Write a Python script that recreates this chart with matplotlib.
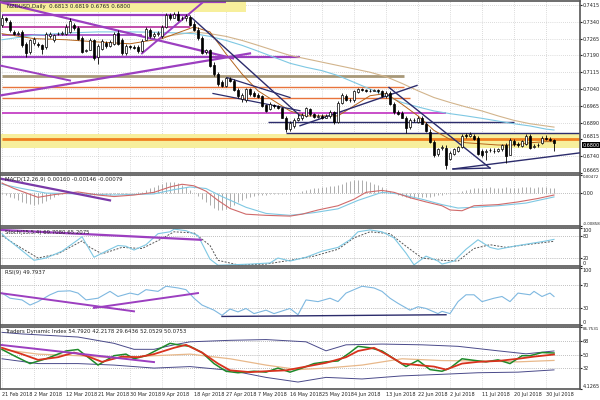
import numpy as np
import matplotlib
matplotlib.use('Agg')
import matplotlib.pyplot as plt
import matplotlib.transforms as mtransforms

# ---- price data (NZDUSD daily, bar index 0 = 21 Feb 2018) ----
opens = [.7325, .7355, .7340, .7295, .7287, .7295, .7242, .7205, .7245, .7242,
         .7235, .7227, .7275, .7257, .7284, .7287, .7287, .7295, .7325, .7314,
         .7269, .7209, .7215, .7257, .7182, .7220, .7245, .7230, .7242, .7290,
         .7260, .7200, .7230, .7227, .7227, .7209, .7260, .7305, .7275, .7284,
         .7275, .7317, .7370, .7359, .7377, .7355, .7359, .7362, .7329, .7305,
         .7269, .7205, .7212, .7149, .7107, .7070, .7055, .7085, .7077, .7035,
         .6995, .6990, .7038, .7020, .7013, .7008, .6969, .6950, .6969, .6963,
         .6954, .6912, .6860, .6873, .6903, .6909, .6921, .6950, .6927, .6915,
         .6921, .6912, .6918, .6936, .6894, .6978, .7011, .6993, .6990, .7026,
         .7038, .7035, .7032, .7032, .7035, .7029, .7008, .7023, .6975, .6936,
         .6933, .6912, .6870, .6903, .6894, .6909, .6885, .6849, .6804, .6750,
         .6777, .6777, .6729, .6750, .6765, .6783, .6834, .6831, .6828, .6822,
         .6765, .6759, .6768, .6765, .6762, .6770, .6789, .6747, .6807, .6795,
         .6786, .6795, .6831, .6783, .6789, .6801, .6822, .6819, .6813]
highs = [.7370, .7362, .7347, .7302, .7299, .7302, .7250, .7265, .7272, .7250,
         .7242, .7295, .7295, .7287, .7295, .7299, .7329, .7355, .7335, .7320,
         .7275, .7220, .7269, .7265, .7242, .7265, .7254, .7260, .7295, .7302,
         .7269, .7242, .7236, .7235, .7235, .7265, .7317, .7314, .7293, .7299,
         .7325, .7380, .7380, .7385, .7389, .7368, .7374, .7370, .7344, .7317,
         .7275, .7220, .7220, .7160, .7115, .7080, .7095, .7092, .7083, .7044,
         .7023, .7044, .7044, .7029, .7020, .7014, .6975, .6984, .6975, .6969,
         .6960, .6920, .6897, .6912, .6927, .6933, .6960, .6957, .6935, .6927,
         .6930, .6927, .6945, .6942, .6987, .7023, .7017, .7002, .7035, .7044,
         .7044, .7041, .7040, .7041, .7041, .7035, .7032, .7029, .6981, .6945,
         .6942, .6920, .6909, .6912, .6918, .6918, .6894, .6860, .6813, .6777,
         .6789, .6789, .6762, .6777, .6786, .6837, .6845, .6849, .6837, .6831,
         .6771, .6771, .6777, .6777, .6777, .6795, .6798, .6822, .6816, .6804,
         .6813, .6837, .6840, .6795, .6801, .6831, .6834, .6825, .6819]
lows = [.7317, .7340, .7295, .7280, .7280, .7227, .7185, .7197, .7238, .7227,
        .7197, .7220, .7269, .7250, .7280, .7281, .7280, .7290, .7305, .7260,
        .7200, .7205, .7212, .7170, .7152, .7212, .7224, .7227, .7238, .7238,
        .7194, .7194, .7220, .7218, .7200, .7205, .7257, .7269, .7269, .7275,
        .7269, .7314, .7350, .7355, .7344, .7350, .7344, .7320, .7299, .7260,
        .7197, .7197, .7140, .7100, .7055, .7050, .7050, .7070, .7029, .7002,
        .6984, .6984, .7011, .7005, .6999, .6960, .6936, .6945, .6957, .6951,
        .6909, .6849, .6852, .6867, .6897, .6900, .6915, .6921, .6909, .6912,
        .6906, .6909, .6912, .6882, .6888, .6972, .6987, .6981, .6984, .7020,
        .7029, .7026, .7026, .7029, .7023, .7005, .6999, .6969, .6930, .6924,
        .6909, .6845, .6861, .6894, .6888, .6882, .6849, .6800, .6738, .6741,
        .6768, .6684, .6723, .6744, .6759, .6777, .6822, .6825, .6813, .6744,
        .6738, .6723, .6759, .6753, .6759, .6765, .6711, .6744, .6786, .6783,
        .6780, .6789, .6771, .6777, .6783, .6795, .6813, .6810, .6765]
closes = [.7355, .7347, .7302, .7287, .7290, .7235, .7200, .7257, .7265, .7235,
          .7220, .7287, .7284, .7280, .7287, .7290, .7317, .7344, .7314, .7265,
          .7205, .7212, .7260, .7179, .7230, .7254, .7230, .7250, .7287, .7242,
          .7200, .7232, .7227, .7224, .7209, .7254, .7310, .7275, .7284, .7290,
          .7317, .7370, .7359, .7377, .7350, .7359, .7365, .7325, .7302, .7269,
          .7200, .7212, .7145, .7107, .7062, .7055, .7089, .7077, .7035, .7010,
          .7014, .7038, .7017, .7011, .7005, .6965, .6942, .6975, .6963, .6957,
          .6912, .6860, .6888, .6903, .6912, .6924, .6954, .6927, .6915, .6921,
          .6912, .6920, .6939, .6891, .6978, .7014, .6993, .6990, .7029, .7038,
          .7035, .7032, .7030, .7035, .7029, .7011, .7023, .6975, .6936, .6930,
          .6912, .6864, .6900, .6901, .6912, .6885, .6852, .6804, .6744, .6770,
          .6780, .6702, .6753, .6771, .6780, .6831, .6831, .6837, .6816, .6750,
          .6744, .6762, .6768, .6762, .6771, .6789, .6741, .6813, .6795, .6792,
          .6807, .6831, .6777, .6786, .6792, .6822, .6819, .6813, .6800]

date_labels = ['21 Feb 2018', '2 Mar 2018', '12 Mar 2018', '21 Mar 2018', '30 Mar 2018',
               '9 Apr 2018', '18 Apr 2018', '27 Apr 2018', '7 May 2018', '16 May 2018',
               '25 May 2018', '4 Jun 2018', '13 Jun 2018', '22 Jun 2018', '2 Jul 2018',
               '11 Jul 2018', '20 Jul 2018', '30 Jul 2018']
date_bars = [0, 8, 16, 24, 32, 40, 48, 56, 64, 72, 80, 88, 96, 104, 112, 120, 128, 136]

# moving averages on the price panel (sampled)
ma_fast_x = [0, 8, 16, 24, 32, 40, 48, 52, 56, 60, 64, 68, 72, 76, 80, 84, 88, 92, 96, 100,
             104, 108, 112, 116, 120, 124, 128, 132, 136, 138]
ma_fast_y = [.7287, .7265, .7260, .7250, .7242, .7265, .7317, .7295, .7197, .7107, .7032, .6987,
             .6942, .6920, .6920, .6920, .6965, .7010, .7020, .6972, .6920, .6855, .6815, .6800,
             .6795, .6790, .6790, .6800, .6805, .6805]
ma_mid_x = [0, 8, 16, 24, 32, 40, 48, 52, 56, 60, 64, 68, 72, 76, 80, 84, 88, 92, 96, 100,
            104, 108, 112, 116, 120, 124, 128, 132, 136, 138]
ma_mid_y = [.7260, .7280, .7290, .7295, .7295, .7293, .7287, .7275, .7257, .7235, .7209, .7182,
            .7155, .7137, .7122, .7100, .7070, .7040, .7010, .6980, .6960, .6942, .6930, .6920,
            .6909, .6897, .6885, .6875, .6861, .6857]
ma_slow_x = [40, 48, 52, 56, 60, 64, 68, 72, 76, 80, 84, 88, 92, 96, 100, 104, 108, 112, 116,
             120, 124, 128, 132, 136, 138]
ma_slow_y = [.7272, .7295, .7287, .7275, .7257, .7235, .7212, .7190, .7175, .7160, .7145, .7130,
             .7115, .7095, .7065, .7032, .7002, .6980, .6960, .6942, .6920, .6900, .6885, .6875,
             .6870]

# drawn objects: horizontal levels and trend lines (bar, price)
hl_price = [0.7428, 0.7370, 0.7316, 0.7280, 0.7181, 0.7100, 0.7051, 0.7002, 0.6934, 0.6894,
            0.6844, 0.6817]
hl_from = [0, 0, 0, 0, 0, 0, 0, 0, 0, 66.5, 71, 0]
hl_to = [56, 47, 47, 35, 74.5, 100.5, 100.5, 102, 111, 128, 144.5, 144.5]
band_lo = [0.7384, 0.6775]
band_hi = [0.7437, 0.6840]
band_from = [-0.5, -0.5]
band_to = [61, 144.5]
tl_x0 = [-0.5, -0.5, -0.5, 35, 47.5, 96.75, 74.5, 112.75, 112.75, 52.75, 56.25]
tl_y0 = [0.7428, 0.7011, 0.7145, 0.7199, 0.7357, 0.7047, 0.6876, 0.6683, 0.6683, 0.7020, 0.7091]
tl_x1 = [57.75, 62, 17, 50, 74.5, 122, 103.75, 144.5, 122, 74.5, 72]
tl_y1 = [0.7177, 0.7199, 0.7078, 0.7424, 0.6921, 0.6687, 0.7056, 0.6755, 0.6687, 0.6943, 0.7002]

# MACD
macd_hist = [-0.0003, -0.0006, -0.0010,
             -0.0014, -0.0018, -0.0022, -0.0026, -0.0028, -0.0030, -0.0028, -0.0025, -0.0020,
             -0.0015, -0.0010, -0.0006,
             -0.0003, 0.0000, 0.0002, 0.0003, 0.0002, -0.0002, -0.0004, -0.0005, -0.0004,
             -0.0003, -0.0004, -0.0005, -0.0004, -0.0003, -0.0002, -0.0003, -0.0002, -0.0001,
             0.0000, 0.0002, 0.0004,
             0.0008, 0.0012, 0.0016, 0.0020, 0.0024, 0.0028, 0.0030, 0.0029, 0.0026, 0.0022, 0.0016,
             0.0008, 0.0000, -0.0008,
             -0.0016, -0.0024, -0.0032, -0.0040, -0.0044, -0.0045, -0.0042, -0.0036, -0.0030,
             -0.0024, -0.0018,
             -0.0014, -0.0010, -0.0008, -0.0006, -0.0005, -0.0004, -0.0003, -0.0002, -0.0002,
             -0.0003, -0.0003, -0.0002, 0.0000, 0.0003, 0.0006, 0.0008, 0.0010, 0.0012, 0.0014,
             0.0015, 0.0016, 0.0018, 0.0018,
             0.0020, 0.0024, 0.0028, 0.0031, 0.0034, 0.0035, 0.0034, 0.0032, 0.0029, 0.0025,
             0.0020, 0.0015, 0.0010, 0.0005,
             0.0000, -0.0005, -0.0008, -0.0010, -0.0012, -0.0012, -0.0011, -0.0010, -0.0010,
             -0.0009, -0.0008, -0.0006, -0.0004,
             -0.0003, -0.0002, 0.0000, 0.0003, 0.0006, 0.0008, 0.0010, 0.0012, 0.0013, 0.0014,
             0.0014, 0.0015, 0.0014, 0.0013, 0.0014, 0.0015, 0.0014, 0.0013, 0.0014, 0.0015,
             0.0016, 0.0015, 0.0014, 0.0015, 0.0016, 0.0015, 0.0014, 0.0013]
macd_x = [0, 3, 9, 13, 19, 24, 28, 33, 38, 42, 45, 48, 51, 54, 57, 61, 66, 72, 75, 79, 84, 88,
          91, 95, 98, 102, 106, 110, 112, 115, 118, 124, 129, 134, 138]
macd_y = [0.0026, 0.0012, -0.0011, -0.0004, 0.0003, -0.0005, -0.0009, -0.0005, 0.0002, 0.0016,
          0.0023, 0.0019, 0.0005, -0.0019, -0.0040, -0.0055, -0.0058, -0.0060, -0.0055, -0.0044,
          -0.0033, -0.0016, 0.0002, 0.0007, 0.0002, -0.0012, -0.0023, -0.0033, -0.0044, -0.0046,
          -0.0033, -0.0030, -0.0023, -0.0014, -0.0005]
sig_x = [0, 5, 11, 19, 28, 38, 43, 47, 51, 55, 61, 66, 72, 78, 84, 89, 95, 99, 105, 110, 114,
         118, 124, 131, 138]
sig_y = [0.0023, 0.0012, 0.0000, -0.0002, -0.0005, -0.0002, 0.0009, 0.0016, 0.0012, -0.0009,
         -0.0037, -0.0053, -0.0058, -0.0051, -0.0041, -0.0019, 0.0002, -0.0002, -0.0016, -0.0030,
         -0.0039, -0.0037, -0.0033, -0.0026, -0.0010]

# Stochastic
stk_x = [0, 1, 4, 8, 11, 15, 19, 20, 23, 26, 29, 31, 33, 36, 39, 42, 43, 46, 49, 52, 54, 57,
         62, 67, 69, 72, 76, 80, 84, 87, 89, 92, 95, 98, 101, 103, 106, 109, 110, 113, 116, 119,
         122, 124, 128, 132, 135, 138]
stk_y = [85, 74, 49, 15, 21, 39, 69, 77, 23, 39, 54, 52, 42, 56, 85, 90, 97, 93, 80, 18, 2, 3,
         5, 8, 21, 13, 23, 39, 49, 69, 90, 95, 90, 74, 34, 3, 26, 13, 5, 13, 44, 69, 49, 44, 52,
         59, 64, 70]
std_x = [0, 3, 9, 14, 20, 22, 25, 30, 35, 40, 43, 48, 52, 54, 59, 66, 72, 78, 84, 88, 92, 97,
         101, 105, 110, 114, 118, 122, 126, 131, 138]
std_y = [80, 59, 21, 32, 66, 49, 32, 49, 46, 72, 90, 87, 54, 15, 3, 5, 15, 26, 44, 74, 90, 85,
         52, 21, 15, 13, 46, 56, 49, 56, 65]

# RSI
rsi_x = [0, 2, 5, 7, 9, 12, 14, 17, 19, 21, 24, 27, 29, 32, 34, 36, 39, 41, 44, 46, 48, 50, 53,
         55, 57, 59, 61, 63, 66, 68, 72, 74, 76, 79, 82, 84, 86, 88, 90, 93, 95, 97, 99, 102,
         104, 106, 109, 110, 112, 114, 116, 118, 120, 123, 125, 127, 129, 132, 133, 135, 137, 138]
rsi_y = [56, 47, 44, 35, 41, 53, 59, 60, 56, 44, 47, 59, 50, 56, 53, 62, 59, 68, 65, 62, 47, 35,
         26, 17, 28, 23, 29, 20, 26, 20, 29, 18, 44, 41, 47, 41, 56, 62, 68, 65, 59, 47, 38, 26,
         32, 29, 20, 24, 20, 41, 53, 53, 41, 47, 50, 41, 56, 53, 59, 50, 56, 50]

# Traders Dynamic Index
tdi_up_x = [0, 5, 19, 28, 33, 38, 43, 47, 57, 66, 76, 81, 86, 95, 105, 114, 124, 131, 138]
tdi_up_y = [79.6, 77.5, 73.4, 65, 57, 57, 63, 67, 69, 70, 67, 55, 63, 64, 63, 61, 55, 51, 54.8]
tdi_mid_x = [0, 9, 19, 28, 38, 47, 57, 66, 74, 81, 90, 100, 110, 119, 129, 138]
tdi_mid_y = [56.8, 50.6, 48.5, 45.6, 48.5, 50.6, 44.4, 36, 30, 32, 36, 44.4, 42, 41.5, 40.3, 42.2]
tdi_lo_x = [0, 9, 19, 28, 38, 47, 57, 66, 74, 81, 90, 100, 110, 119, 129, 138]
tdi_lo_y = [44.4, 38, 38, 36, 32, 34, 29, 19.6, 13.4, 19.6, 17.5, 21.6, 23.7, 25.8, 26.6, 29.6]
tdi_g_x = [0, 3, 7, 11, 16, 19, 22, 24, 28, 31, 33, 36, 39, 42, 44, 47, 50, 53, 56, 59, 63, 66,
           69, 72, 75, 78, 81, 84, 87, 89, 92, 95, 98, 101, 104, 107, 110, 112, 115, 118, 121,
           124, 127, 130, 132, 135, 138]
tdi_g_y = [56.8, 48.5, 38, 44.4, 54.8, 56.8, 44.4, 36, 48.5, 50.6, 44.4, 48.5, 56.8, 65, 63, 61,
           52.7, 38, 27.8, 25.8, 27.8, 26.6, 32, 26.6, 32, 38, 40.3, 41.5, 52.7, 61, 59, 54.8,
           44.4, 34, 42.3, 30, 27.8, 32, 44.4, 42.3, 40.3, 43, 38, 48.5, 48.5, 52.7, 52.1]
tdi_r_x = [0, 5, 9, 14, 18, 21, 25, 30, 34, 38, 43, 46, 50, 54, 57, 62, 66, 71, 76, 81, 86, 89,
           93, 96, 100, 104, 108, 111, 115, 119, 124, 129, 133, 138]
tdi_r_y = [59, 50.6, 43, 46.5, 52.7, 48.5, 40.3, 47.3, 46.5, 50.6, 59, 63, 52.7, 38, 29, 26.6,
           27.8, 29, 34, 39, 46.5, 54.8, 59, 50.6, 38, 36, 34, 30, 38, 40.3, 41.5, 44.4, 47.3, 50.1]

# ---- figure ----
fig = plt.figure(figsize=(6, 4), dpi=100)
fig.patch.set_facecolor('white')
W = 580 / 600
FS = 3.5   # axis labels
HFS = 3.9  # panel headers


def make_panel(top, bottom):
    ax = fig.add_axes([0, 1 - bottom / 400, W, (bottom - top) / 400])
    ax.set_xlim(-0.5, 144.5)
    ax.yaxis.tick_right()
    ax.tick_params(axis='y', labelsize=FS, length=1.2, pad=0.6, colors='#222222')
    ax.tick_params(axis='x', length=0, labelsize=FS, pad=2, colors='#222222')
    ax.set_xticks(date_bars)
    ax.set_xticklabels([])
    for s in ax.spines.values():
        s.set_color('#555555')
        s.set_linewidth(1.2)
    ax.grid(True, color='#bbbbbb', linestyle=(0, (1, 2)), linewidth=0.5)
    ax.set_axisbelow(True)
    return ax


def edge_labels(ax, top_first=True):
    labs = ax.get_yticklabels()
    if top_first:
        labs[0].set_va('top')
    labs[-1].set_va('bottom')
    for t in labs:
        if len(t.get_text()) > 6:
            t.set_fontsize(2.9)


ax = make_panel(1, 173)
ax.set_ylim(0.6665, 0.7433)
ax.set_yticks([0.7415, 0.7340, 0.7265, 0.7190, 0.7115, 0.7040, 0.6965, 0.6890, 0.6815,
               0.6740, 0.6665])
ax.set_yticklabels(['%.4f' % v for v in ax.get_yticks()])
edge_labels(ax, top_first=False)
# keep the 0.6815 label clear of the current-price box
ax.get_yticklabels()[8].set_va('bottom')

for lo, hi, x0, x1 in zip(band_lo, band_hi, band_from, band_to):
    ax.fill_between([x0, x1], lo, hi, color='#f7ef9c', lw=0, zorder=1)

hl_color = ['#9c3fc0', '#9c3fc0', '#b8309c', '#9c3fc0', '#9c3fc0', '#a89878', '#e8743c',
            '#e8743c', '#c030c0', '#2c2c6c', '#2c2c6c', '#f08020']
hl_lw = [1.6, 1.6, 1.2, 1.2, 1.6, 2.0, 1.0, 1.0, 1.2, 1.0, 1.0, 2.0]
for p, x0, x1, c, lw in zip(hl_price, hl_from, hl_to, hl_color, hl_lw):
    ax.plot([x0, x1], [p, p], color=c, lw=lw, zorder=2, solid_capstyle='butt')

ax.plot(ma_slow_x, ma_slow_y, color='#d2b48c', lw=0.8, zorder=3)
ax.plot(ma_mid_x, ma_mid_y, color='#7ec8e3', lw=0.8, zorder=3)
ax.plot(ma_fast_x, ma_fast_y, color='#b5651d', lw=0.7, zorder=3)

tl_color = ['#9c3fc0'] * 4 + ['#2c2c6c'] * 7
tl_lw = [1.6, 1.6, 1.4, 1.4, 1.0, 1.0, 1.0, 1.0, 1.0, 0.9, 0.9]
for x0, y0, x1, y1, c, lw in zip(tl_x0, tl_y0, tl_x1, tl_y1, tl_color, tl_lw):
    ax.plot([x0, x1], [y0, y1], color=c, lw=lw, zorder=4)

o = np.array(opens)
h = np.array(highs)
l = np.array(lows)
c = np.array(closes)
idx = np.arange(len(c))
ax.vlines(idx, l, h, color='black', lw=0.6, zorder=5)
body = np.maximum(np.abs(c - o), 0.00008)
ax.bar(idx, body, bottom=np.minimum(o, c), width=0.7,
       color=np.where(c >= o, 'white', 'black'), edgecolor='black', lw=0.5, zorder=6)

tr = mtransforms.blended_transform_factory(ax.transAxes, ax.transData)
ax.text(1.004, closes[-1], '%.4f' % closes[-1], transform=tr, fontsize=FS, color='white',
        va='top', ha='left', bbox=dict(facecolor='black', edgecolor='none', pad=0.4),
        zorder=10)
ax.text(0.012, 0.985, 'NZDUSD,Daily  0.6813 0.6819 0.6765 0.6800', transform=ax.transAxes,
        fontsize=HFS, va='top', ha='left', color='#222222', zorder=10)

# MACD panel
ax2 = make_panel(175, 226)
ax2.set_ylim(-0.00858, 0.00472)
ax2.set_yticks([0.00472, 0.0, -0.00858])
ax2.set_yticklabels(['0.00472', '0.00', '-0.00858'])
edge_labels(ax2)
ax2.axhline(0, color='#aaaaaa', lw=0.5, ls=(0, (1, 2)))
ax2.vlines(idx, 0, macd_hist, color='#a0a0a0', lw=0.6)
ax2.plot(sig_x, sig_y, color='#7ec8e3', lw=0.8)
ax2.plot(macd_x, macd_y, color='#d06a6a', lw=0.8)
ax2.plot([-0.5, 27], [0.0038, -0.0019], color='#7a3aa8', lw=1.6)
ax2.text(0.008, 0.97, 'MACD(12,26,9) 0.00160 -0.00146 -0.00079', transform=ax2.transAxes,
         fontsize=HFS, va='top', ha='left', color='#222222')

# Stochastic panel
ax3 = make_panel(228, 266)
ax3.set_ylim(0, 100)
ax3.set_yticks([100, 80, 20, 0])
edge_labels(ax3)
ax3.axhline(80, color='#aaaaaa', lw=0.5, ls=(0, (1, 2)))
ax3.axhline(20, color='#aaaaaa', lw=0.5, ls=(0, (1, 2)))
ax3.plot(std_x, std_y, color='#555555', lw=0.7, ls=(0, (2, 1.5)))
ax3.plot(stk_x, stk_y, color='#7ec8e3', lw=0.8)
ax3.plot([-0.5, 49.7], [95, 69], color='#9c3fc0', lw=1.6)
ax3.text(0.008, 0.96, 'Stoch(15,5,4) 69.7080 65.2075', transform=ax3.transAxes,
         fontsize=HFS, va='top', ha='left', color='#222222')

# RSI panel
ax4 = make_panel(268, 325)
ax4.set_ylim(0, 100)
ax4.set_yticks([100, 70, 30, 0])
edge_labels(ax4)
ax4.axhline(70, color='#aaaaaa', lw=0.5, ls=(0, (1, 2)))
ax4.axhline(30, color='#aaaaaa', lw=0.5, ls=(0, (1, 2)))
ax4.plot(rsi_x, rsi_y, color='#7eb8e0', lw=0.8)
ax4.plot([-0.5, 33], [56, 24], color='#9c3fc0', lw=1.4)
ax4.plot([23, 49], [30, 56], color='#9c3fc0', lw=1.4)
ax4.plot([55, 111], [15, 18], color='#2c2c6c', lw=1.0)
ax4.text(0.008, 0.97, 'RSI(9) 49.7937', transform=ax4.transAxes,
         fontsize=HFS, va='top', ha='left', color='#222222')

# TDI panel
ax5 = make_panel(327, 389)
ax5.set_ylim(4.1265, 86.7531)
ax5.set_yticks([86.7531, 68, 50, 32, 4.1265])
ax5.set_yticklabels(['86.7531', '68', '50', '32', '4.1265'])
edge_labels(ax5)
for lev in [68, 50, 32]:
    ax5.axhline(lev, color='#aaaaaa', lw=0.5, ls=(0, (1, 2)))
ax5.plot(tdi_up_x, tdi_up_y, color='#4a4a8a', lw=0.7)
ax5.plot(tdi_lo_x, tdi_lo_y, color='#4a4a8a', lw=0.7)
ax5.plot(tdi_mid_x, tdi_mid_y, color='#e8b88a', lw=0.9)
ax5.plot(tdi_g_x, tdi_g_y, color='#1e8a2a', lw=1.1)
ax5.plot(tdi_r_x, tdi_r_y, color='#d8321e', lw=1.3)
ax5.plot([-0.5, 38], [63, 40], color='#9c3fc0', lw=1.4)
ax5.text(0.008, 0.97, 'Traders Dynamic Index 54.7920 42.2178 29.6436 52.0529 50.0753',
         transform=ax5.transAxes, fontsize=HFS, va='top', ha='left', color='#222222')
ax5.set_xticklabels(date_labels, ha='left')

fig.savefig('out.png', dpi=100, facecolor='white')
